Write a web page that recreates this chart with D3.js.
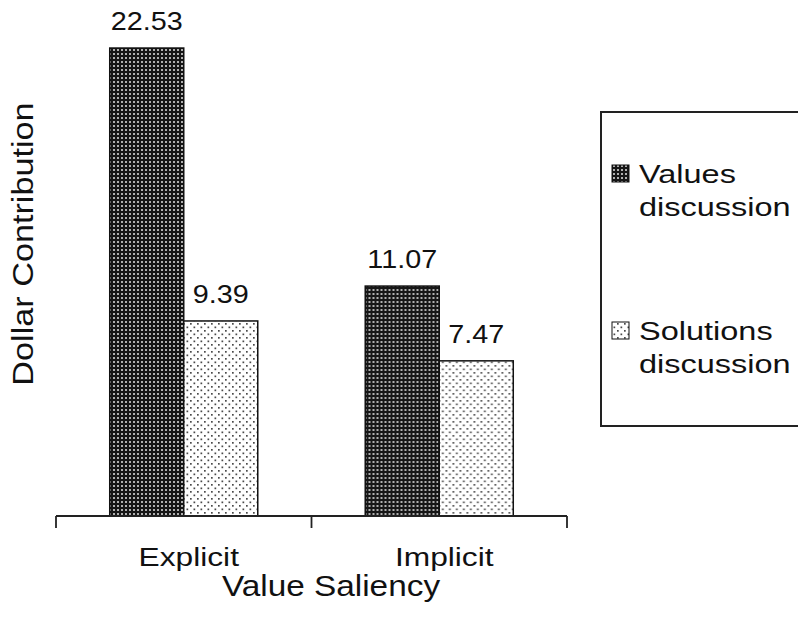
<!DOCTYPE html>
<html>
<head>
<meta charset="utf-8">
<script src="https://cdn.jsdelivr.net/npm/d3@7"></script>
<style>
  html, body { margin: 0; padding: 0; background: #fff; }
  svg { display: block; font-family: "Liberation Sans", Arial, sans-serif; }
</style>
</head>
<body>
<svg id="chart" width="798" height="622"></svg>
<script>
// Dollar contribution by value saliency and discussion type
const categories = ["Explicit", "Implicit"];
const seriesNames = ["Values discussion", "Solutions discussion"];
const valuesDiscussion = [22.53, 11.07];
const solutionsDiscussion = [9.39, 7.47];
const valueLabels = ["22.53", "11.07"];
const solutionLabels = ["9.39", "7.47"];

const svg = d3.select("#chart");

const baseY = 516;
const x = d3.scaleBand().domain(categories).range([56, 567]).paddingInner(0).paddingOuter(0);
const xInner = d3.scaleBand().domain(seriesNames).range([0, x.bandwidth()])
  .paddingInner(0).paddingOuter(0.726);
const y = d3.scaleLinear().domain([0, 24]).range([baseY, 17.5]);

// fill patterns
const defs = svg.append("defs");
const pDark = defs.append("pattern").attr("id", "patDark")
  .attr("patternUnits", "userSpaceOnUse").attr("width", 4).attr("height", 4);
pDark.append("rect").attr("width", 4).attr("height", 4).attr("fill", "#161616");
pDark.append("rect").attr("x", 1).attr("y", 1).attr("width", 2).attr("height", 2).attr("fill", "#b0b0b0");

const pLight = defs.append("pattern").attr("id", "patLight")
  .attr("patternUnits", "userSpaceOnUse").attr("width", 7).attr("height", 7);
pLight.append("rect").attr("width", 7).attr("height", 7).attr("fill", "#fff");
pLight.append("rect").attr("x", 1).attr("y", 1).attr("width", 1.7).attr("height", 1.7).attr("fill", "#4a4a4a");
pLight.append("rect").attr("x", 4.5).attr("y", 4.5).attr("width", 1.7).attr("height", 1.7).attr("fill", "#4a4a4a");

const fills = ["url(#patDark)", "url(#patLight)"];

const rows = categories.map((c, i) => ({
  cat: c,
  items: [
    { s: seriesNames[0], v: valuesDiscussion[i], label: valueLabels[i] },
    { s: seriesNames[1], v: solutionsDiscussion[i], label: solutionLabels[i] }
  ]
}));

// horizontally widened text, scaled about its anchor point
function stretchText(sel, sx) {
  sel.each(function () {
    const t = d3.select(this);
    const tx = +t.attr("x"), ty = +t.attr("y");
    t.attr("transform", `translate(${tx},${ty}) scale(${sx},1) translate(${-tx},${-ty})`);
  });
}

const groups = svg.append("g").selectAll("g.grp").data(rows).join("g")
  .attr("class", "grp")
  .attr("transform", d => `translate(${x(d.cat)},0)`);

groups.selectAll("rect.bar").data(d => d.items).join("rect")
  .attr("class", "bar")
  .attr("x", d => xInner(d.s))
  .attr("y", d => y(d.v))
  .attr("width", xInner.bandwidth())
  .attr("height", d => baseY - y(d.v))
  .attr("fill", (d, i) => fills[i])
  .attr("stroke", "#111")
  .attr("stroke-width", 1.5);

groups.selectAll("text.val").data(d => d.items).join("text")
  .attr("class", "val")
  .attr("x", d => xInner(d.s) + xInner.bandwidth() / 2)
  .attr("y", d => y(d.v) - 18)
  .attr("text-anchor", "middle")
  .attr("font-size", 25)
  .attr("fill", "#111")
  .text(d => d.label)
  .call(stretchText, 1.15);

// category axis: baseline with ticks at band boundaries
const bounds = categories.map(c => x(c)).concat([x.range()[1]]);
const axis = svg.append("g");
axis.append("line")
  .attr("x1", x.range()[0]).attr("x2", x.range()[1])
  .attr("y1", baseY).attr("y2", baseY)
  .attr("stroke", "#222").attr("stroke-width", 1.8);
axis.selectAll("line.tick").data(bounds).join("line")
  .attr("class", "tick")
  .attr("x1", d => d).attr("x2", d => d)
  .attr("y1", baseY).attr("y2", baseY + 12)
  .attr("stroke", "#222").attr("stroke-width", 1.8);
axis.selectAll("text.cat").data(categories).join("text")
  .attr("class", "cat")
  .attr("x", d => x(d) + x.bandwidth() / 2 + 5)
  .attr("y", 566)
  .attr("text-anchor", "middle")
  .attr("font-size", 26)
  .attr("fill", "#111")
  .text(d => d)
  .call(stretchText, 1.22);

// axis titles
svg.append("text")
  .attr("x", 331).attr("y", 596)
  .attr("text-anchor", "middle")
  .attr("font-size", 29)
  .attr("fill", "#111")
  .text("Value Saliency")
  .call(stretchText, 1.15);

svg.append("text")
  .attr("transform", "translate(33,244) rotate(-90) scale(1.18,1)")
  .attr("text-anchor", "middle")
  .attr("font-size", 29)
  .attr("fill", "#111")
  .text("Dollar Contribution");

// legend
const legend = svg.append("g");
legend.append("rect")
  .attr("x", 601).attr("y", 112).attr("width", 220).attr("height", 314)
  .attr("fill", "#fff").attr("stroke", "#222").attr("stroke-width", 2);

const legendRows = [
  { name: seriesNames[0], lines: ["Values", "discussion"], top: 165 },
  { name: seriesNames[1], lines: ["Solutions", "discussion"], top: 322 }
];
const li = legend.selectAll("g.item").data(legendRows).join("g").attr("class", "item");
li.append("rect")
  .attr("x", 612).attr("y", d => d.top)
  .attr("width", 17).attr("height", 17)
  .attr("fill", (d, i) => fills[i])
  .attr("stroke", "#111").attr("stroke-width", 1);
li.each(function (d) {
  const g = d3.select(this);
  d.lines.forEach((ln, k) => {
    g.append("text")
      .attr("x", 639).attr("y", d.top + 18 + k * 33)
      .attr("font-size", 25)
      .attr("fill", "#111")
      .text(ln)
      .call(stretchText, 1.3);
  });
});
</script>
</body>
</html>
